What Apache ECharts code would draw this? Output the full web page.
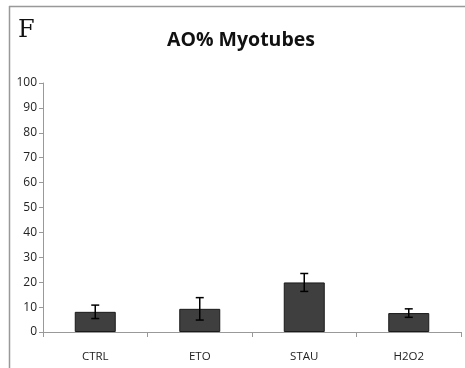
<!DOCTYPE html>
<html><head><meta charset="utf-8">
<script src="https://cdn.jsdelivr.net/npm/echarts@6/dist/echarts.min.js"></script>
<style>html,body{margin:0;padding:0;background:#fff}#c{width:465px;height:368px}</style>
</head><body><div id="c"></div>
<script>
const categories = ['CTRL', 'ETO', 'STAU', 'H2O2'];
const means = [8.1, 9.3, 19.9, 7.6];
const errors = [2.7, 4.5, 3.6, 1.7];
const yTicks = [0, 10, 20, 30, 40, 50, 60, 70, 80, 90, 100];

const chart = echarts.init(document.getElementById('c'), null, {renderer: 'canvas'});
const errData = means.map((m, i) => [i, m - errors[i], m + errors[i]]);
chart.setOption({
  animation: false,
  backgroundColor: '#fff',
  title: {
    text: 'AO% Myotubes', left: 167, top: 30,
    textStyle: {fontFamily: 'Open Sans', fontWeight: 'bold', fontSize: 19.5, color: '#111'},
    padding: 0, itemGap: 0
  },
  graphic: [
    {type: 'line', shape: {x1: 9, y1: 6.5, x2: 465, y2: 6.5}, style: {stroke: '#999', lineWidth: 1.5}},
    {type: 'line', shape: {x1: 9.5, y1: 6, x2: 9.5, y2: 368}, style: {stroke: '#999', lineWidth: 1.5}},
    {type: 'text', left: 18, top: 19, style: {text: 'F', font: '24px "DejaVu Serif", "Liberation Serif", serif', fill: '#111'}}
  ],
  grid: {left: 43, right: 4, top: 83, bottom: 36, containLabel: false},
  xAxis: {
    type: 'category', data: categories,
    axisLine: {lineStyle: {color: '#999', width: 1}},
    axisTick: {show: true, length: 5, lineStyle: {color: '#999'}},
    axisLabel: {color: '#222', fontFamily: 'Open Sans', fontSize: 11.5, margin: 19}
  },
  yAxis: {
    type: 'value', min: yTicks[0], max: yTicks[yTicks.length - 1], interval: 10,
    splitLine: {show: false},
    axisLine: {show: true, lineStyle: {color: '#999', width: 1}},
    axisTick: {show: true, length: 4, lineStyle: {color: '#999'}},
    axisLabel: {color: '#222', fontFamily: 'Open Sans', fontSize: 12, margin: 6}
  },
  series: [
    {
      type: 'bar', data: means, barWidth: 41,
      itemStyle: {color: '#3f3f3f', borderColor: '#1a1a1a', borderWidth: 1}
    },
    {
      type: 'custom', data: errData,
      renderItem: function (params, api) {
        const x = api.coord([api.value(0), 0])[0];
        const lo = api.coord([api.value(0), api.value(1)])[1];
        const hi = api.coord([api.value(0), api.value(2)])[1];
        const hw = 4;
        const st = {stroke: '#000', lineWidth: 1.5};
        return {type: 'group', children: [
          {type: 'line', shape: {x1: x, y1: lo, x2: x, y2: hi}, style: st},
          {type: 'line', shape: {x1: x - hw, y1: hi, x2: x + hw, y2: hi}, style: st},
          {type: 'line', shape: {x1: x - hw, y1: lo, x2: x + hw, y2: lo}, style: st}
        ]};
      },
      z: 10
    }
  ]
});
</script></body></html>
